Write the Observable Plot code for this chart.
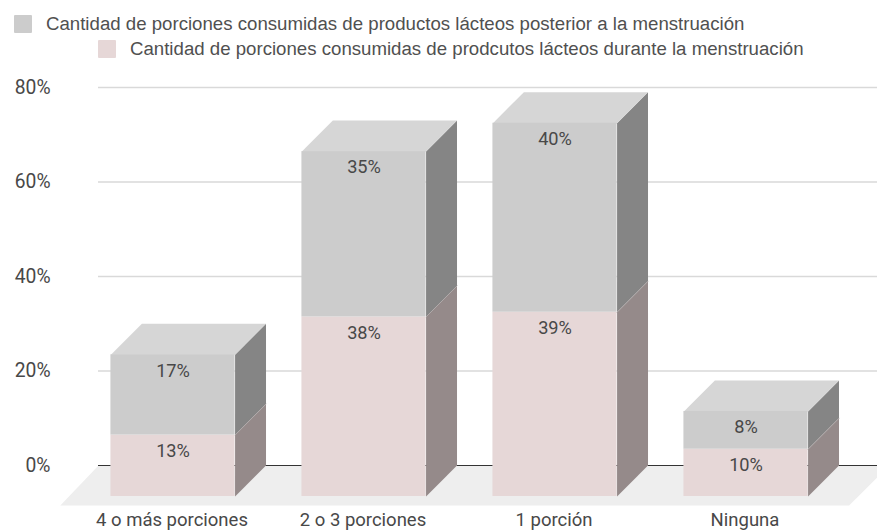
<!DOCTYPE html>
<html><head><meta charset="utf-8">
<script src="https://cdn.jsdelivr.net/npm/d3@7"></script>
<script src="https://cdn.jsdelivr.net/npm/@observablehq/plot@0.6"></script>
<style>
html,body{margin:0;padding:0;background:#fff;overflow:hidden;width:877px;height:531px}
#legend{position:relative;height:70px;font-family:"Liberation Sans",Arial,sans-serif;font-size:18.65px;color:#505050}
.row{position:absolute;display:flex;align-items:center;white-space:nowrap;height:18px}
.sw{display:inline-block;width:18px;height:18px;margin-right:14px;border-radius:1px}
svg{display:block}
</style></head><body>
<div id="legend">
<div class="row" style="left:14px;top:15px"><span class="sw" style="background:#cccccc"></span><span id="l1"></span></div>
<div class="row" style="left:98px;top:40px"><span class="sw" style="background:#e6d7d7"></span><span id="l2"></span></div>
</div>
<div id="chart"></div>
<script>
const categories = ["4 o más porciones", "2 o 3 porciones", "1 porción", "Ninguna"];
const durante = [13, 38, 39, 10];
const posterior = [17, 35, 40, 8];
const seriesNames = [
  "Cantidad de porciones consumidas de productos lácteos posterior a la menstruación",
  "Cantidad de porciones consumidas de prodcutos lácteos durante la menstruación"
];
const yTicks = [0, 20, 40, 60, 80];
const halfWidth = 0.325, depthX = 0.162, depthY = 6.56;

document.getElementById("l1").textContent = seriesNames[0];
document.getElementById("l2").textContent = seriesNames[1];

const segments = [];
categories.forEach((c, i) => {
  segments.push({i, v0: 0, v1: durante[i], value: durante[i], front: "#e6d7d7", side: "#958a8a"});
  segments.push({i, v0: durante[i], v1: durante[i] + posterior[i], value: posterior[i], front: "#cccccc", side: "#858585", top: true});
});
const poly = [];
segments.forEach((s, k) => {
  const r = s.i + halfWidth, l = s.i - halfWidth;
  [[r, s.v0 - depthY], [r, s.v1 - depthY], [r + depthX, s.v1], [r + depthX, s.v0]]
    .forEach(([x, y]) => poly.push({id: "s" + k, x, y, fill: s.side}));
  if (s.top)
    [[l, s.v1 - depthY], [r, s.v1 - depthY], [r + depthX, s.v1], [l + depthX, s.v1]]
      .forEach(([x, y]) => poly.push({id: "t" + k, x, y, fill: "#d6d6d6"}));
});
const floorPts = [{x: -0.39, y: 0}, {x: 3.75, y: 0}, {x: 3.54, y: -8.47}, {x: -0.59, y: -8.47}];
const seams = segments.filter(s => !s.top).flatMap((s, k) => [
  {id: k, x: s.i + halfWidth, y: s.v1 - depthY},
  {id: k, x: s.i + halfWidth + depthX, y: s.v1}
]);

const plot = Plot.plot({
  width: 877, height: 461,
  marginLeft: 53, marginRight: 0, marginTop: 0, marginBottom: 22,
  style: {background: "transparent", fontFamily: "Roboto, sans-serif", fontSize: "16px", color: "#444"},
  x: {domain: [0, 3], range: [172.5, 745.5], label: null},
  y: {domain: [0, 80], range: [395, 17], label: null},
  marks: [
    Plot.line(floorPts, {x: "x", y: "y", fill: "#eeeeee", stroke: "none", curve: "linear-closed"}),
    Plot.ruleY(yTicks.filter(d => d > 0), {x1: () => -0.39, x2: () => 3.75, stroke: "#d9d9d9", strokeWidth: 1.5}),
    Plot.ruleY([0], {x1: () => -0.39, x2: () => 3.75, stroke: "#333333", strokeWidth: 1.2}),
    Plot.line(poly, {x: "x", y: "y", z: "id", fill: "fill", stroke: "none", curve: "linear-closed"}),
    Plot.line(seams, {x: "x", y: "y", z: "id", stroke: "#b0aaaa", strokeWidth: 1}),
    Plot.rect(segments, {x1: d => d.i - halfWidth, x2: d => d.i + halfWidth, y1: d => d.v0 - depthY, y2: d => d.v1 - depthY, fill: "front", inset: 0}),
    Plot.text(segments, {x: "i", y: d => d.v1 - depthY, text: d => d.value + "%", dy: 16, fill: "#484848", fontSize: 18.2, fontFamily: "Roboto, sans-serif"}),
    Plot.axisY({ticks: yTicks, tickFormat: d => d + "%", tickSize: 0, tickPadding: 3, fontSize: 19.3, label: null, fill: "#484848"}),
    Plot.axisX({ticks: [0, 1, 2, 3], tickFormat: i => categories[i], tickSize: 0, tickPadding: 3, fontSize: 18.5, label: null, anchor: "bottom", fill: "#484848", dx: -1})
  ]
});
document.getElementById("chart").appendChild(plot);
</script>
</body></html>
